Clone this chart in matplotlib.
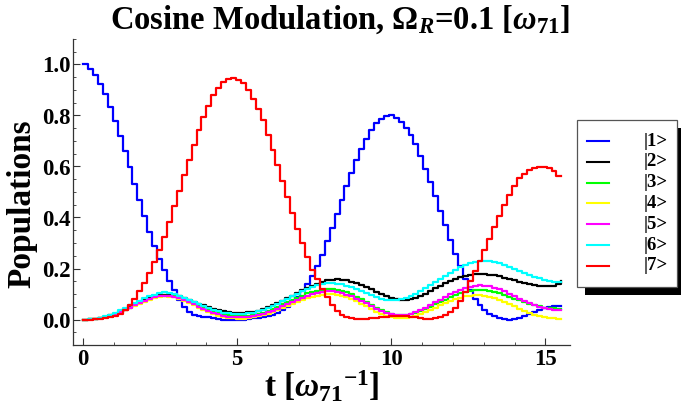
import matplotlib
matplotlib.use('Agg')
import matplotlib.pyplot as plt
import numpy as np
from matplotlib.ticker import MultipleLocator, FormatStrFormatter
from matplotlib.lines import Line2D
from matplotlib.patches import Rectangle

plt.rcParams['font.family'] = ['Liberation Serif', 'DejaVu Serif']
plt.rcParams['font.weight'] = 'bold'
plt.rcParams['mathtext.fontset'] = 'custom'
plt.rcParams['mathtext.rm'] = 'Liberation Serif:bold'
plt.rcParams['mathtext.it'] = 'Liberation Serif:italic'
plt.rcParams['mathtext.bf'] = 'Liberation Serif:bold'

# time grid, step 0.16
t = np.round(np.arange(98) * 0.16, 2)

# populations
p1 = [1.0, 0.983, 0.96, 0.924, 0.885, 0.835, 0.78, 0.72, 0.66, 0.598,
      0.533, 0.467, 0.406, 0.343, 0.287, 0.239, 0.193, 0.151, 0.115, 0.078,
      0.05, 0.03, 0.018, 0.012, 0.01, 0.008, 0.005, 0.002, 0.0, 0.0,
      0.0, 0.0, 0.0, 0.002, 0.004, 0.007, 0.01, 0.013, 0.018, 0.025,
      0.036, 0.049, 0.068, 0.088, 0.11, 0.138, 0.17, 0.209, 0.254, 0.306,
      0.36, 0.415, 0.47, 0.522, 0.574, 0.624, 0.67, 0.709, 0.744, 0.77,
      0.787, 0.799, 0.80, 0.791, 0.774, 0.752, 0.722, 0.687, 0.64, 0.591,
      0.539, 0.483, 0.425, 0.369, 0.313, 0.258, 0.209, 0.16, 0.115, 0.08,
      0.055, 0.036, 0.022, 0.012, 0.005, 0.001, 0.0, 0.002, 0.007, 0.013,
      0.021, 0.03, 0.039, 0.046, 0.05, 0.051, 0.053, 0.053]
p2 = [0.0, 0.001, 0.003, 0.006, 0.010, 0.016, 0.023, 0.031, 0.040, 0.049,
      0.058, 0.067, 0.076, 0.084, 0.091, 0.096, 0.098, 0.098, 0.096, 0.091,
      0.085, 0.078, 0.070, 0.062, 0.055, 0.049, 0.043, 0.038, 0.033, 0.030,
      0.027, 0.026, 0.026, 0.028, 0.031, 0.035, 0.041, 0.048, 0.056, 0.065,
      0.074, 0.084, 0.094, 0.104, 0.114, 0.124, 0.133, 0.141, 0.148, 0.153,
      0.156, 0.157, 0.156, 0.153, 0.148, 0.142, 0.135, 0.127, 0.118, 0.108,
      0.099, 0.091, 0.084, 0.079, 0.077, 0.078, 0.081, 0.086, 0.092, 0.100,
      0.112, 0.123, 0.133, 0.143, 0.152, 0.160, 0.166, 0.171, 0.175, 0.178,
      0.179, 0.178, 0.176, 0.173, 0.169, 0.164, 0.159, 0.154, 0.149, 0.144,
      0.140, 0.136, 0.133, 0.131, 0.131, 0.133, 0.138, 0.152]
p3 = [0.0, 0.001, 0.003, 0.006, 0.010, 0.015, 0.022, 0.030, 0.038, 0.047,
      0.056, 0.065, 0.073, 0.081, 0.087, 0.092, 0.094, 0.094, 0.092, 0.087,
      0.080, 0.072, 0.064, 0.055, 0.047, 0.039, 0.032, 0.026, 0.020, 0.016,
      0.013, 0.012, 0.012, 0.014, 0.017, 0.021, 0.027, 0.034, 0.042, 0.050,
      0.059, 0.068, 0.077, 0.086, 0.094, 0.102, 0.108, 0.113, 0.117, 0.119,
      0.119, 0.117, 0.113, 0.107, 0.099, 0.090, 0.080, 0.069, 0.058, 0.047,
      0.037, 0.029, 0.023, 0.019, 0.017, 0.018, 0.021, 0.026, 0.033, 0.041,
      0.050, 0.060, 0.069, 0.078, 0.087, 0.095, 0.102, 0.107, 0.111, 0.114,
      0.115, 0.114, 0.111, 0.107, 0.102, 0.096, 0.089, 0.082, 0.075, 0.068,
      0.062, 0.056, 0.051, 0.047, 0.045, 0.044, 0.043, 0.043]
p4 = [0.0, 0.001, 0.003, 0.006, 0.010, 0.015, 0.021, 0.029, 0.037, 0.045,
      0.054, 0.062, 0.070, 0.078, 0.084, 0.089, 0.091, 0.090, 0.087, 0.081,
      0.073, 0.064, 0.055, 0.045, 0.036, 0.028, 0.021, 0.015, 0.010, 0.006,
      0.004, 0.003, 0.003, 0.005, 0.008, 0.012, 0.017, 0.023, 0.030, 0.037,
      0.045, 0.053, 0.061, 0.069, 0.076, 0.083, 0.089, 0.094, 0.098, 0.100,
      0.100, 0.098, 0.094, 0.088, 0.080, 0.071, 0.061, 0.051, 0.041, 0.031,
      0.022, 0.015, 0.009, 0.005, 0.004, 0.005, 0.008, 0.013, 0.020, 0.028,
      0.037, 0.046, 0.055, 0.064, 0.072, 0.080, 0.086, 0.091, 0.094, 0.096,
      0.096, 0.094, 0.090, 0.084, 0.077, 0.069, 0.060, 0.051, 0.042, 0.034,
      0.026, 0.019, 0.013, 0.009, 0.006, 0.004, 0.003, 0.003]
p5 = [0.0, 0.001, 0.003, 0.006, 0.010, 0.015, 0.022, 0.030, 0.038, 0.047,
      0.056, 0.065, 0.073, 0.081, 0.087, 0.092, 0.094, 0.093, 0.090, 0.085,
      0.077, 0.068, 0.059, 0.050, 0.041, 0.033, 0.026, 0.020, 0.015, 0.011,
      0.009, 0.008, 0.008, 0.010, 0.013, 0.017, 0.022, 0.028, 0.035, 0.043,
      0.051, 0.060, 0.068, 0.077, 0.085, 0.092, 0.099, 0.104, 0.108, 0.110,
      0.110, 0.108, 0.104, 0.098, 0.091, 0.082, 0.073, 0.063, 0.053, 0.043,
      0.035, 0.027, 0.022, 0.018, 0.017, 0.019, 0.023, 0.029, 0.037, 0.046,
      0.056, 0.067, 0.078, 0.089, 0.099, 0.108, 0.116, 0.123, 0.128, 0.132,
      0.134, 0.133, 0.130, 0.125, 0.118, 0.110, 0.101, 0.092, 0.082, 0.073,
      0.064, 0.056, 0.050, 0.045, 0.041, 0.039, 0.038, 0.037]
p6 = [0.0, 0.001, 0.003, 0.007, 0.012, 0.019, 0.027, 0.036, 0.045, 0.055,
      0.064, 0.074, 0.083, 0.091, 0.098, 0.103, 0.106, 0.105, 0.101, 0.094,
      0.086, 0.077, 0.068, 0.059, 0.051, 0.044, 0.037, 0.032, 0.027, 0.024,
      0.022, 0.021, 0.022, 0.024, 0.027, 0.032, 0.038, 0.045, 0.053, 0.062,
      0.071, 0.081, 0.091, 0.101, 0.110, 0.119, 0.127, 0.134, 0.139, 0.142,
      0.143, 0.141, 0.138, 0.133, 0.126, 0.119, 0.111, 0.103, 0.095, 0.088,
      0.082, 0.078, 0.076, 0.077, 0.080, 0.085, 0.092, 0.101, 0.111, 0.122,
      0.134, 0.147, 0.160, 0.172, 0.184, 0.195, 0.205, 0.213, 0.220, 0.225,
      0.228, 0.229, 0.228, 0.225, 0.220, 0.214, 0.207, 0.199, 0.191, 0.183,
      0.175, 0.168, 0.161, 0.155, 0.151, 0.148, 0.147, 0.147]
p7 = [0.0, 0.0, 0.002, 0.003, 0.004, 0.008, 0.013, 0.023, 0.036, 0.056,
      0.082, 0.112, 0.143, 0.184, 0.226, 0.271, 0.324, 0.382, 0.444, 0.504,
      0.565, 0.627, 0.685, 0.744, 0.794, 0.839, 0.879, 0.909, 0.931, 0.944,
      0.948, 0.940, 0.927, 0.901, 0.866, 0.826, 0.781, 0.722, 0.666, 0.604,
      0.543, 0.48, 0.418, 0.356, 0.30, 0.245, 0.193, 0.157, 0.121, 0.089,
      0.056, 0.034, 0.017, 0.008, 0.004, 0.003, 0.003, 0.003, 0.004, 0.006,
      0.009, 0.011, 0.013, 0.014, 0.014, 0.013, 0.011, 0.008, 0.005, 0.003,
      0.003, 0.004, 0.008, 0.017, 0.028, 0.045, 0.072, 0.108, 0.150, 0.19,
      0.23, 0.274, 0.317, 0.363, 0.405, 0.448, 0.49, 0.523, 0.555, 0.572,
      0.585, 0.594, 0.60, 0.60, 0.595, 0.581, 0.561, 0.561]

labels = ['|1>', '|2>', '|3>', '|4>', '|5>', '|6>', '|7>']
colors = ['#0000ff', '#000000', '#00ff00', '#ffff00', '#ff00ff', '#00ffff', '#ff0000']

W, H = 681, 415
fig = plt.figure(figsize=(W / 100, H / 100), dpi=100)
ax = fig.add_axes([73 / W, 1 - 345 / H, (570 - 73) / W, (345 - 39) / H])

for p, c in zip([p1, p2, p3, p4, p5, p6, p7], colors):
    ax.step(t, p, where='post', color=c, lw=1.6)

ax.set_xlim(-0.33, 15.8)
ax.set_ylim(-0.1, 1.1)
ax.xaxis.set_major_locator(MultipleLocator(5))
ax.xaxis.set_minor_locator(MultipleLocator(1))
ax.yaxis.set_major_locator(MultipleLocator(0.2))
ax.yaxis.set_minor_locator(MultipleLocator(0.05))
ax.yaxis.set_major_formatter(FormatStrFormatter('%.1f'))
for s in ['top', 'right']:
    ax.spines[s].set_visible(False)
for s in ['left', 'bottom']:
    ax.spines[s].set_color('#333333')
    ax.spines[s].set_linewidth(0.9)
ax.tick_params(which='major', direction='in', length=5, width=0.8, color='#333333',
               labelsize=16.5)
ax.tick_params(axis='x', which='major', pad=3)
ax.tick_params(axis='y', which='major', pad=1.5)
ax.tick_params(which='minor', direction='in', length=2.5, width=0.6, color='#333333')
for lab in ax.get_xticklabels() + ax.get_yticklabels():
    lab.set_fontweight('bold')

fig.text(0.5, 1 - 20 / H, r'Cosine Modulation, $\Omega_{\mathit{R}}$=0.1 [$\omega_{71}$]',
         ha='center', va='center', fontsize=23.5, fontweight='bold')
fig.text(22 / W, 1 - 204 / H, 'Populations', rotation=90, ha='center', va='center',
         fontsize=24, fontweight='bold')
fig.text(322 / W, 1 - 386 / H, r't [${\omega_{71}}^{-1}$]', ha='center', va='center',
         fontsize=24, fontweight='bold')

# legend box with drop shadow
fig.add_artist(Rectangle((585 / W, 1 - 295 / H), 100 / W, 167 / H,
                         transform=fig.transFigure, facecolor='black', edgecolor='none'))
fig.add_artist(Rectangle((577 / W, 1 - 287 / H), 100 / W, 167 / H,
                         transform=fig.transFigure, facecolor='white',
                         edgecolor='#555555', lw=0.9))
for k, (lab, c) in enumerate(zip(labels, colors)):
    yy = 1 - (141 + 20.8 * k) / H
    fig.add_artist(Line2D([587 / W, 609 / W], [yy, yy], transform=fig.transFigure,
                          color=c, lw=1.5))
    fig.text(644 / W, yy, lab, ha='left', va='center', fontsize=13.5, fontweight='bold')

fig.savefig('out.png', dpi=100)
